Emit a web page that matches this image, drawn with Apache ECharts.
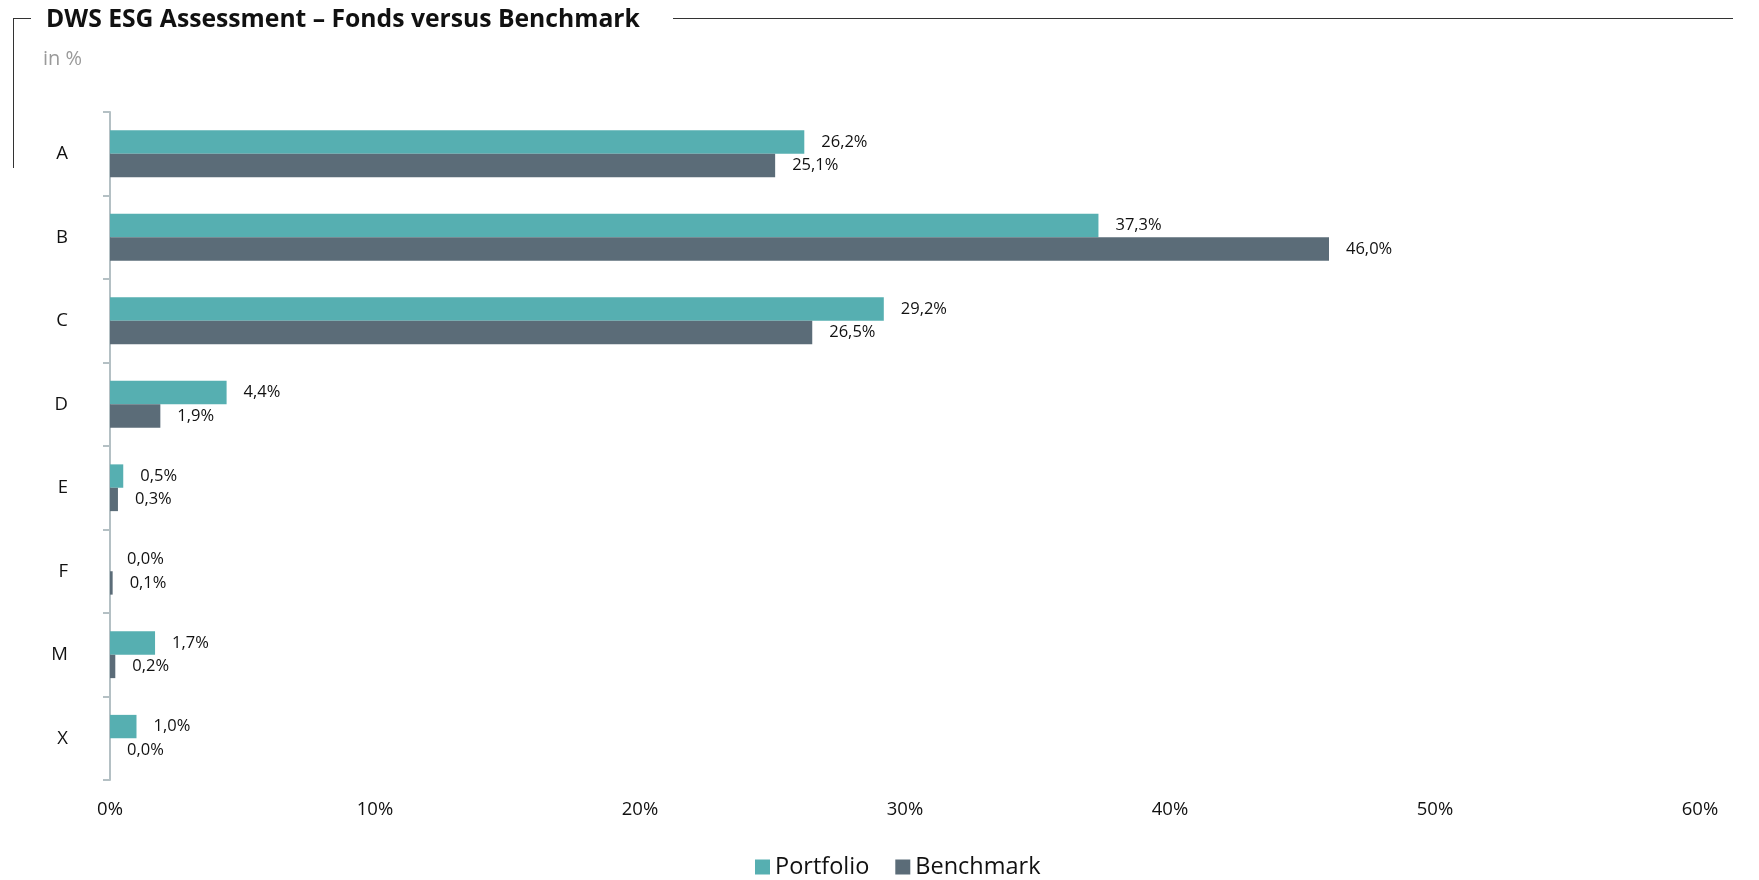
<!DOCTYPE html>
<html>
<head>
<meta charset="utf-8">
<script src="https://cdn.jsdelivr.net/npm/echarts@6/dist/echarts.min.js"></script>
<style>
  html, body { margin: 0; padding: 0; background: #ffffff; }
  #chart { width: 1759px; height: 880px; }
</style>
</head>
<body>
<div id="chart"></div>
<script>
// ESG rating classes, top to bottom
const categories = ['A', 'B', 'C', 'D', 'E', 'F', 'M', 'X'];
// Share of holdings per rating class, in %
const portfolio = [26.2, 37.3, 29.2, 4.4, 0.5, 0.0, 1.7, 1.0];
const benchmark = [25.1, 46.0, 26.5, 1.9, 0.3, 0.1, 0.2, 0.0];
const xTicks = [0, 10, 20, 30, 40, 50, 60];

const FONT = '"Open Sans", "Noto Sans", sans-serif';
const TEAL = '#56AFB1';
const SLATE = '#5B6C78';

const fmtPct = v => v.toFixed(1).replace('.', ',') + '%';

const chart = echarts.init(document.getElementById('chart'), null, { renderer: 'canvas' });

const labelCfg = {
  show: true,
  position: 'right',
  distance: 17,
  color: '#111',
  fontFamily: FONT,
  fontSize: 16.5,
  formatter: p => fmtPct(p.value)
};

chart.setOption({
  backgroundColor: '#ffffff',
  animation: false,
  textStyle: { fontFamily: FONT },
  title: {
    text: 'DWS ESG Assessment – Fonds versus Benchmark',
    left: 41,
    top: 2,
    textStyle: { fontFamily: FONT, fontWeight: 'bold', fontSize: 24.7, color: '#111' }
  },
  graphic: [
    // frame: short stub left of the title, vertical edge, long rule right of the title
    { type: 'line', shape: { x1: 13, y1: 18.5, x2: 31, y2: 18.5 }, style: { stroke: '#333', lineWidth: 1 } },
    { type: 'line', shape: { x1: 13.5, y1: 18, x2: 13.5, y2: 168 }, style: { stroke: '#333', lineWidth: 1 } },
    { type: 'line', shape: { x1: 673, y1: 18.5, x2: 1733, y2: 18.5 }, style: { stroke: '#333', lineWidth: 1 } },
    { type: 'text', left: 43, top: 49, style: { text: 'in %', fontFamily: FONT, fontSize: 20, fill: '#9a9a9a' } }
  ],
  legend: {
    data: ['Portfolio', 'Benchmark'],
    left: 750,
    top: 850,
    itemWidth: 15,
    itemHeight: 15,
    itemGap: 26,
    icon: 'rect',
    textStyle: { fontFamily: FONT, fontSize: 23.5, color: '#111' }
  },
  grid: { left: 110, right: 59, top: 112, bottom: 100, containLabel: false },
  xAxis: {
    type: 'value',
    min: xTicks[0],
    max: xTicks[xTicks.length - 1],
    interval: 10,
    axisLine: { show: false },
    axisTick: { show: false },
    splitLine: { show: false },
    axisLabel: {
      formatter: v => v + '%',
      fontFamily: FONT,
      fontSize: 18.5,
      color: '#111',
      margin: 20
    }
  },
  yAxis: {
    type: 'category',
    data: categories,
    inverse: true,
    axisLine: { show: true, lineStyle: { color: '#B4C0C4', width: 2 } },
    axisTick: { show: true, length: 7, lineStyle: { color: '#B4C0C4', width: 2 } },
    axisLabel: { fontFamily: FONT, fontSize: 18.5, color: '#111', margin: 42 }
  },
  series: [
    {
      name: 'Portfolio',
      type: 'bar',
      data: portfolio,
      barGap: '0%',
      barCategoryGap: '44%',
      itemStyle: { color: TEAL },
      label: labelCfg
    },
    {
      name: 'Benchmark',
      type: 'bar',
      data: benchmark,
      barGap: '0%',
      barCategoryGap: '44%',
      itemStyle: { color: SLATE },
      label: labelCfg
    }
  ]
});
</script>
</body>
</html>
